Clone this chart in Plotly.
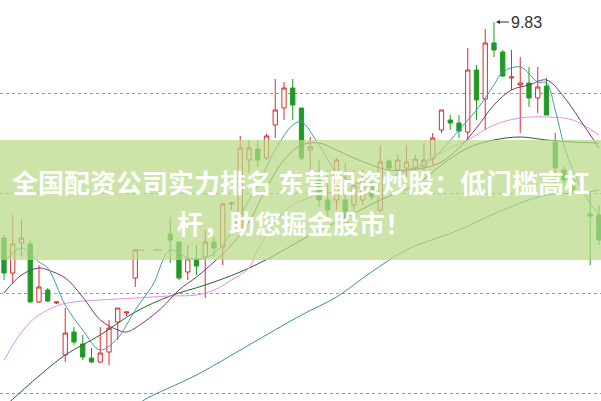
import plotly.graph_objects as go

# ---- candle data (index = trading-day slot; 16-18 suspended) ----
days = [0,1,2,3,4,5,6,7,8,9,10,11,12,13,14,15,19,20,21,22,23,24,25,26,27,28,29,30,
        31,32,33,34,35,36,37,38,39,40,41,42,43,44,45,46,47,48,49,50,51,52,53,54,55,56,
        57,58,59,60,61,62,63,64,65,66,67,68]
open_ = [7.67,7.32,7.62,7.61,7.03,7.15,7.02,6.50,6.73,6.61,6.47,6.43,6.53,6.83,6.92,7.27,
         7.71,7.63,7.33,7.46,7.48,7.63,7.58,8.01,7.77,8.45,8.56,8.47,8.80,8.97,9.17,8.97,
         8.55,8.25,8.05,8.05,8.05,8.00,8.05,8.22,7.95,8.44,8.35,8.37,8.37,8.38,8.46,8.75,
         8.85,8.82,8.73,9.35,9.06,9.62,9.53,9.27,9.20,9.22,9.07,9.19,8.63,8.35,8.25,8.14,
         7.91,7.90]
high = [7.70,7.90,7.86,7.65,7.40,7.17,7.03,6.97,6.78,6.70,6.57,6.78,6.85,6.97,6.93,7.56,
        7.88,7.63,7.60,7.60,7.75,7.68,8.02,8.03,8.69,8.65,8.65,8.71,9.26,9.23,9.26,8.97,
        8.68,8.45,8.35,8.47,8.42,8.35,8.35,8.27,8.60,8.46,8.50,8.60,8.50,8.62,8.72,8.95,
        8.90,8.90,9.57,9.40,9.76,9.83,9.55,9.55,9.48,9.38,9.38,9.27,8.72,8.38,8.28,8.16,
        8.12,8.00]
low = [7.25,7.22,7.48,7.03,7.02,7.03,7.01,6.43,6.60,6.45,6.42,6.42,6.40,6.65,6.89,7.18,
       7.42,7.25,7.25,7.30,7.07,7.48,7.40,7.95,7.77,8.32,8.38,8.45,8.67,8.85,8.85,8.45,
       8.35,7.98,7.88,7.95,7.80,7.88,8.00,8.05,7.93,8.33,8.28,8.28,8.35,8.30,8.40,8.72,
       8.75,8.67,8.65,8.85,8.75,9.48,9.28,9.15,8.72,8.98,8.92,8.90,8.12,8.20,8.10,8.11,
       7.40,7.60]
close = [7.32,7.61,7.67,7.03,7.18,7.04,7.03,6.72,6.63,6.48,6.43,6.52,6.77,6.97,6.93,7.55,
         7.65,7.27,7.46,7.39,7.63,7.57,8.01,8.02,8.57,8.57,8.45,8.69,8.95,9.17,9.00,8.47,
         8.58,8.05,7.95,8.45,7.82,8.20,8.27,8.08,8.43,8.37,8.45,8.43,8.46,8.45,8.67,8.95,
         8.82,8.74,9.35,9.05,9.62,9.55,9.29,9.28,9.22,9.07,9.18,8.90,8.37,8.25,8.15,8.13,
         7.89,7.65]

# suspension marker (previous close carried over)
susp_days = [15, 19]
susp_price = [7.55, 7.55]

# ---- moving averages ----
ma5_days = [0,2,4,5,7,9,11,13,14,15,17,19,21,23,25,27,29,31,33,34,36,38,40,42,44,46,48,
            50,52,54,56,57,59,61,62,63,64,65,66,67,68]
ma5 = [7.43,7.57,7.43,7.37,7.00,6.75,6.55,6.67,6.80,6.95,7.20,7.55,7.47,7.47,7.60,7.90,
       8.20,8.55,8.80,8.83,8.60,8.33,8.23,8.20,8.27,8.35,8.40,8.55,8.75,8.95,9.20,9.33,
       9.38,9.23,9.22,8.95,8.60,8.35,8.17,8.02,7.90]
ma10_days = [0,2,4,5,7,9,11,13,14,16,18,20,22,24,26,28,30,32,34,36,38,40,42,44,46,48,50,
             52,54,56,58,60,62,64,66,68]
ma10 = [7.12,7.30,7.37,7.35,7.27,7.08,6.85,6.75,6.73,6.83,6.97,7.15,7.28,7.43,7.60,7.83,
        8.17,8.45,8.60,8.62,8.55,8.47,8.40,8.35,8.35,8.37,8.43,8.57,8.77,9.00,9.15,9.20,
        9.25,9.08,8.83,8.57]
ma20_days = [0,3,6,8,11,15,19,22,24,26,28,29,31,33,36,39,42,45,48,51,53,56,59,62,65,68]
ma20 = [6.45,6.83,6.99,7.03,7.05,7.07,7.09,7.10,7.15,7.25,7.37,7.55,7.83,8.00,8.10,8.15,
        8.20,8.30,8.43,8.57,8.65,8.80,8.87,8.88,8.85,8.70]
ma30_days = [0,4,7,11,15,19,23,27,31,35,39,43,47,50,53,56,59,62,65,68]
ma30 = [5.98,6.29,6.50,6.70,6.93,7.09,7.20,7.33,7.50,7.70,7.87,8.05,8.20,8.40,8.57,8.65,
        8.68,8.65,8.63,8.62]
ma60_days = [15,16,22,28,34,38,42,46,52,57,62,66,68]
ma60 = [5.98,6.05,6.30,6.60,6.90,7.08,7.33,7.55,7.75,7.95,8.10,8.12,8.15]

grid_levels = [9.12, 8.12, 7.12, 6.12]
title_line1 = "全国配资公司实力排名 东营配资炒股：低门槛高杠"
title_line2 = "杆，助您掘金股市！"
peak_label = "9.83"
peak_day = 56

RED = "#dc2b2f"
GREEN = "#1f9a24"

fig = go.Figure()
fig.add_trace(go.Candlestick(
    x=days, open=open_, high=high, low=low, close=close,
    increasing=dict(line=dict(color=RED, width=1), fillcolor="white"),
    decreasing=dict(line=dict(color=GREEN, width=1), fillcolor=GREEN),
    whiskerwidth=0, hoverinfo="skip", showlegend=False))

fig.add_trace(go.Scatter(x=susp_days, y=susp_price, mode="lines",
                         line=dict(color=RED, width=1, dash="dash"),
                         hoverinfo="skip", showlegend=False))

for d, v, col in [(ma60_days, ma60, "#3a8fa6"), (ma30_days, ma30, "#2f5e2f"),
                  (ma20_days, ma20, "#e58fe5"), (ma10_days, ma10, "#74397a"),
                  (ma5_days, ma5, "#3f9bb0")]:
    fig.add_trace(go.Scatter(x=d, y=v, mode="lines", line=dict(color=col, width=1),
                             line_shape="spline", hoverinfo="skip", showlegend=False))

# translucent banner
fig.add_shape(type="rect", xref="paper", yref="paper", x0=0, x1=1,
              y0=1 - 260 / 401, y1=1 - 140 / 401, layer="above",
              fillcolor="rgba(185,218,135,0.72)", line=dict(width=0))

fig.add_annotation(xref="paper", yref="paper", x=0.5, y=1 - 181 / 401,
                   text=title_line1, showarrow=False,
                   font=dict(family="Noto Sans CJK SC", size=26, color="white", weight="bold"))
fig.add_annotation(xref="paper", yref="paper", x=0.49, y=1 - 222 / 401,
                   text=title_line2, showarrow=False,
                   font=dict(family="Noto Sans CJK SC", size=26, color="white", weight="bold"))

fig.add_annotation(x=peak_day, y=high[days.index(peak_day)], text=peak_label,
                   showarrow=True, ax=15, ay=0, xanchor="left", arrowhead=2,
                   arrowsize=0.8, arrowwidth=1, arrowcolor="#333", standoff=2,
                   font=dict(family="Liberation Sans", size=16, color="#333"))

fig.update_layout(
    width=601, height=401, margin=dict(l=0, r=0, t=0, b=0),
    paper_bgcolor="white", plot_bgcolor="white", showlegend=False,
    xaxis=dict(range=[-0.457, 68.23], showgrid=False, zeroline=False, showticklabels=False,
               ticks="", showline=False, rangeslider=dict(visible=False)),
    yaxis=dict(range=[6.04, 10.05], tickvals=grid_levels, showgrid=True,
               gridcolor="#9a9a9a", griddash="dot", gridwidth=1, zeroline=False,
               showticklabels=False, ticks="", showline=False),
)
fig.write_html("out.html", config={"displayModeBar": False},
               post_script="document.body.style.margin='0';document.body.style.overflow='hidden';")
